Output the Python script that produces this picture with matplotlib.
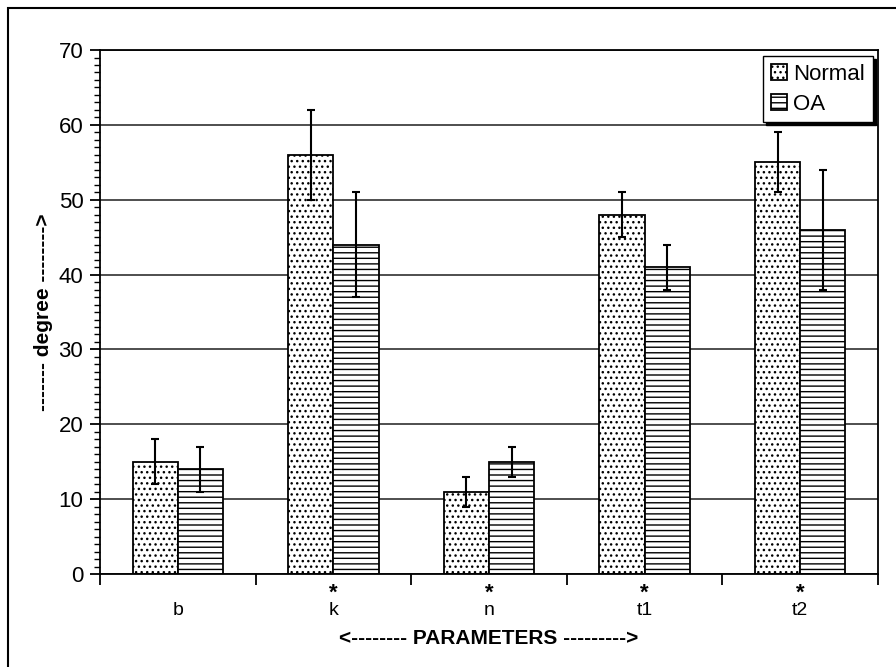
import matplotlib
matplotlib.use("Agg")
import matplotlib.pyplot as plt
import numpy as np
from matplotlib.patches import Rectangle
from matplotlib.ticker import MultipleLocator, FixedLocator

plt.rcParams['font.family'] = ['Liberation Sans', 'DejaVu Sans']
plt.rcParams['hatch.linewidth'] = 1.0

# data
params = ['b', 'k', 'n', 't1', 't2']
signif = ['', '*', '*', '*', '*']
normal_mean = [15, 56, 11, 48, 55]
normal_sd = [3, 6, 2, 3, 4]
oa_mean = [14, 44, 15, 41, 46]
oa_sd = [3, 7, 2, 3, 8]

fig = plt.figure(figsize=(8.96, 6.67), dpi=100)
ax = fig.add_axes([0.1116, 0.1394, 0.9799 - 0.1116, 0.925 - 0.1394])

x = np.arange(len(params))
w = 0.29

ax.set_axisbelow(True)
ax.yaxis.grid(True, color='#404040', linewidth=1.3)

err_kw = dict(ecolor='black', elinewidth=1.5, capsize=3, capthick=1.5)
ax.bar(x - w / 2, normal_mean, w, yerr=normal_sd, color='white', edgecolor='black',
       linewidth=1.3, hatch='...', label='Normal', error_kw=err_kw)
ax.bar(x + w / 2, oa_mean, w, yerr=oa_sd, color='white', edgecolor='black',
       linewidth=1.3, hatch='---', label='OA', error_kw=err_kw)

ax.set_xlim(-0.5, len(params) - 0.5)
ax.set_ylim(0, 70)
ax.yaxis.set_major_locator(MultipleLocator(10))
ax.yaxis.set_minor_locator(MultipleLocator(1))
ax.tick_params(axis='y', which='major', direction='out', length=7, width=1.3,
               labelsize=16, pad=5)
ax.tick_params(axis='y', which='minor', direction='out', length=4, width=1.0)

ax.set_xticks(x)
ax.set_xticklabels(params, fontsize=14)
ax.xaxis.set_minor_locator(FixedLocator(np.arange(len(params) + 1) - 0.5))
ax.tick_params(axis='x', which='major', length=0, pad=20)
ax.tick_params(axis='x', which='minor', direction='out', length=8, width=1.3)

for xi, s in zip(x, signif):
    if s:
        ax.text(xi, -2.5, s, ha='center', va='center', fontsize=16, fontweight='bold')

for sp in ax.spines.values():
    sp.set_linewidth(1.3)
    sp.set_color('black')

ax.set_ylabel('------- degree -------->', fontsize=15, fontweight='bold', labelpad=4)
ax.set_xlabel('<-------- PARAMETERS --------->', fontsize=15, fontweight='bold', labelpad=7)

leg = ax.legend(loc='upper right', bbox_to_anchor=(1 - 5 / 778, 1 - 6 / 524),
                borderaxespad=0, fontsize=16, frameon=True, fancybox=False,
                edgecolor='black', framealpha=1, handlelength=0.7, handleheight=0.7,
                handletextpad=0.3, borderpad=0.35, labelspacing=0.4,
                shadow={'color': 'black', 'alpha': 1})
leg.get_frame().set_linewidth(1.0)

# outer frame of the picture
fig.add_artist(Rectangle((8 / 896, -0.5), 2, 0.5 + 1 - 8 / 667, transform=fig.transFigure,
                         fill=False, edgecolor='black', linewidth=1.5))

fig.savefig('out.png', dpi=100)
